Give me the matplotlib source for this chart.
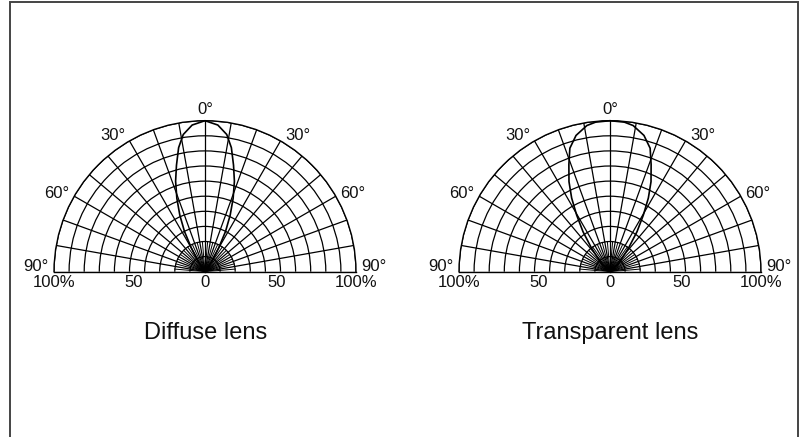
import numpy as np
import matplotlib
matplotlib.use("Agg")
import matplotlib.pyplot as plt
from matplotlib.patches import Rectangle

plt.rcParams['font.family'] = ['Liberation Sans', 'DejaVu Sans']

# ---- data ----
diffuse_theta = [0, 5, 9, 12, 15, 18, 21, 24, 27, 30, 34, 40]
diffuse_r = [100, 97.5, 92, 84, 73, 63, 52, 41, 30, 18, 8, 0]

transparent_theta = [0, 5.5, 9, 14, 18, 21, 24.5, 27.5, 30.5, 34, 38, 45, 55]
transparent_r = [100, 99.5, 98, 93, 86, 76, 65.5, 55, 43.5, 32, 20, 9, 0]

titles = ["Diffuse lens", "Transparent lens"]
angle_labels = ["0°", "30°", "60°", "90°"]
angle_values = [0, 30, 60, 90]
r_tick_values = [100, 50, 0, 50, 100]
r_tick_labels = ["100%", "50", "0", "50", "100%"]
grid_angles = list(range(-90, 91, 10))
grid_radii = list(range(10, 101, 10))

W, H = 805, 437
fig = plt.figure(figsize=(W / 100, H / 100), dpi=100)

# outer frame
fig.patches.append(Rectangle((10 / W, -0.02), (798 - 10) / W, (H - 2) / H + 0.02,
                             transform=fig.transFigure, fill=False,
                             edgecolor='#444444', lw=1.4))

centers_x = [205, 610]
center_y = 271.7
R = 151
series = [(diffuse_theta, diffuse_r), (transparent_theta, transparent_r)]
txtc = '#111111'

# angle label placement (radius, angle)
label_pos = {0: (107.7, 0), 30: (108.8, 34.3), 60: (111, 62.0), 90: (112, 88.1)}

for i, cx in enumerate(centers_x):
    box_cy = center_y - R / 2
    ax = fig.add_axes([(cx - 2 * R) / W, (H - box_cy - R) / H, 4 * R / W, 2 * R / H],
                      projection='polar')
    ax.set_theta_zero_location('N')
    ax.set_theta_direction(-1)
    ax.set_thetamin(-90)
    ax.set_thetamax(90)
    ax.set_ylim(0, 100)
    ax.set_xticks(np.deg2rad(grid_angles))
    ax.set_yticks(grid_radii)
    ax.set_xticklabels([])
    ax.set_yticklabels([])
    ax.tick_params(length=0)
    ax.grid(True, color='black', lw=0.9, ls='-')
    for sp in ax.spines.values():
        sp.set_color('black')
        sp.set_linewidth(1.0)
    ax.patch.set_alpha(0)

    # intermediate short spokes near the centre
    for a in range(-85, 90, 10):
        ax.plot(np.deg2rad([a, a]), [0, 20], color='black', lw=0.7)

    th, rr = series[i]
    th = np.array(th, dtype=float)
    rr = np.array(rr, dtype=float)
    th_full = np.concatenate([-th[::-1], th[1:]])
    r_full = np.concatenate([rr[::-1], rr[1:]])
    ax.plot(np.deg2rad(th_full), r_full, color='black', lw=1.2, clip_on=False)

    for lab, val in zip(angle_labels, angle_values):
        rp, ap = label_pos[val]
        sides = [1] if val == 0 else [-1, 1]
        for s in sides:
            ax.text(np.deg2rad(s * ap), rp, lab, ha='center', va='center',
                    fontsize=12, color=txtc, clip_on=False)

    for k, (v, lab) in enumerate(zip(r_tick_values, r_tick_labels)):
        side = -1 if k < 2 else 1
        if v == 0:
            xy = (0, 0)
            dx = 0
        else:
            xy = (np.deg2rad(side * 90), v)
            dx = 0 if v == 100 else -side * 3.0
        ax.annotate(lab, xy=xy, xytext=(dx, -7.6), textcoords='offset points',
                    ha='center', va='center', fontsize=12, color=txtc,
                    annotation_clip=False)

    fig.text((cx + 0.5) / W, (H - 333) / H, titles[i], ha='center', va='center',
             fontsize=17, color=txtc)

fig.savefig('out.png', dpi=100)
